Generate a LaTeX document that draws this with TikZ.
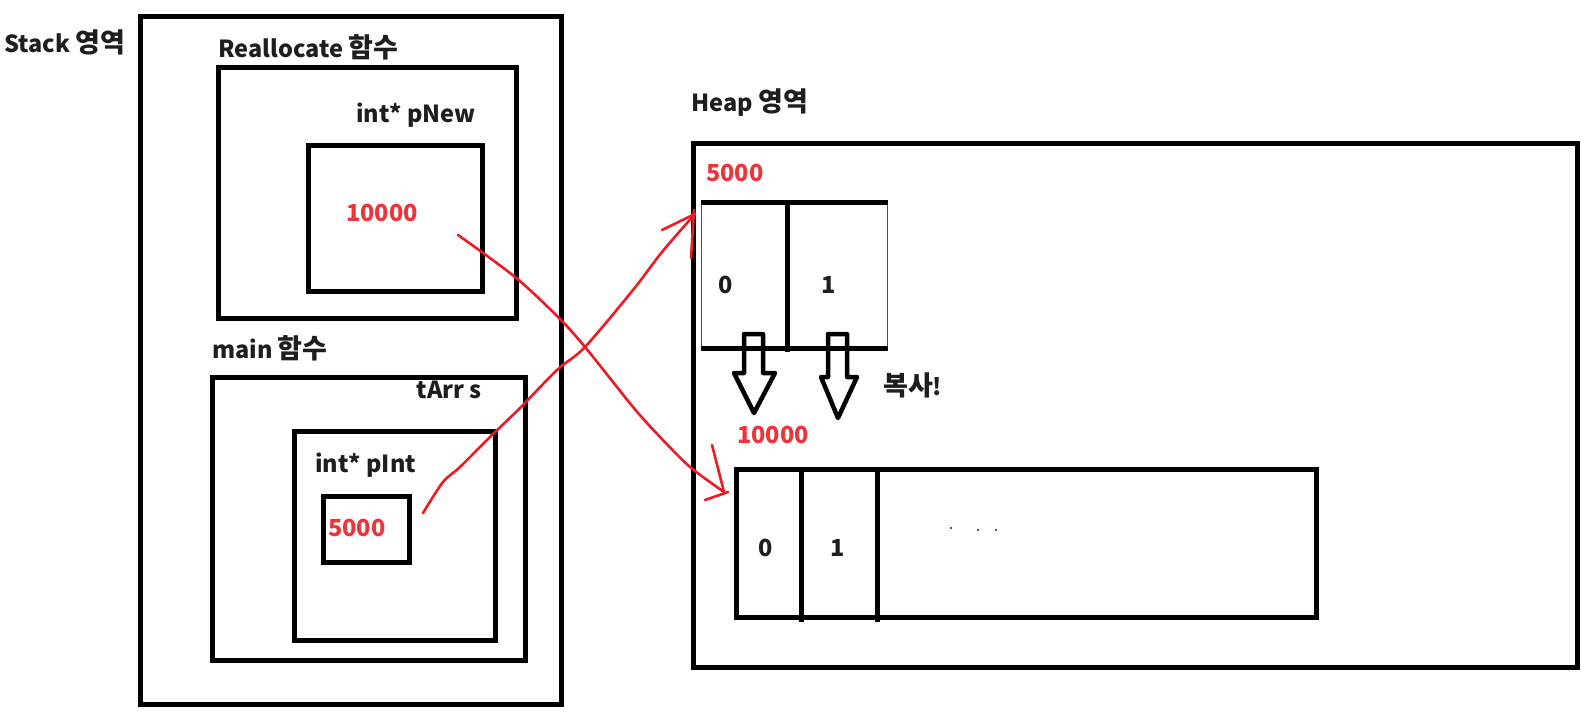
\documentclass[tikz,border=0pt]{standalone}
\usepackage{fontspec}
\setmainfont{Noto Sans CJK KR}
\definecolor{ink}{RGB}{30,30,30}
\definecolor{redc}{RGB}{237,28,36}
\definecolor{redt}{RGB}{236,52,58}
\newcommand{\hg}[1]{{\fontsize{27}{28}\selectfont #1}}
\begin{document}
\begin{tikzpicture}[x=1pt,y=-1pt,
  box/.style={draw=black, line width=5pt, minimum width=#1, inner sep=0pt, anchor=north west},
  lbl/.style={font=\bfseries\fontsize{23.5}{28}\selectfont, text=ink, inner sep=0pt, anchor=west},
  num/.style={lbl, text=redt},
  redline/.style={draw=redc, line width=2.6pt, line cap=round, line join=round},
  blockarrow/.style={draw=black, line width=4.5pt, line join=round},
  thick5/.style={draw=black, line width=5pt}]
\useasboundingbox (0,0) rectangle (1588,724);
% Stack side
\node[box=421pt, minimum height=688pt] (stack) at (138,14) {};
\node[lbl] (stacklbl) at (4,42) {Stack \hg{영역}};
\node[lbl] (realloclbl) at (218,47) {Reallocate \hg{함수}};
\node[box=298pt, minimum height=251pt] (realloc) at (216,65) {};
\node[lbl, anchor=east] (pnewlbl) at (476,115) {int* pNew};
\node[box=174pt, minimum height=146pt] (pnew) at (306,143) {};
\node[num] (v10000a) at (346,213) {10000};
\node[lbl] (mainlbl) at (212,348) {main \hg{함수}};
\node[box=313pt, minimum height=283pt] (mainbox) at (210,375) {};
\node[lbl, anchor=east] (tarrlbl) at (482,390) {tArr s};
\node[box=201pt, minimum height=209pt] (sbox) at (292,429) {};
\node[lbl] (pintlbl) at (315,465) {int* pInt};
\node[box=86pt, minimum height=66pt] (pint) at (321,494) {};
\node[num] (v5000a) at (328,528) {5000};
% Heap side
\node[lbl] (heaplbl) at (691,103) {Heap \hg{영역}};
\node[box=884pt, minimum height=524pt] (heap) at (691,141) {};
\node[num] (v5000b) at (706,173) {5000};
\node[draw=black!70, line width=1.2pt, minimum width=186pt, minimum height=145pt, inner sep=0pt, anchor=north west] (arr1) at (701,202) {};
\draw[thick5] (arr1.north west) -- (arr1.north east);
\draw[thick5] (arr1.south west) -- (arr1.south east);
\coordinate (d1t) at (787,202);
\coordinate (d1b) at (787,352);
\draw[thick5] (d1t) -- (d1b);
\node[lbl, anchor=center] (a1c0) at (726,285) {0};
\node[lbl, anchor=center] (a1c1) at (829,285) {1};
% copy arrows
\draw[blockarrow] (744,334) -- (763,334) -- (763,373) -- (775,373) -- (754,413) -- (734,373) -- (744,373) -- cycle;
\draw[blockarrow] (828,334) -- (847,334) -- (847,377) -- (857,377) -- (838,418) -- (821,377) -- (828,377) -- cycle;
\node[lbl] (copylbl) at (883,385) {\hg{복사}!};
\node[num] (v10000b) at (737,435) {10000};
\node[box=580pt, minimum height=148pt] (arr2) at (734,467) {};
\coordinate (d2t) at (801,467);
\coordinate (d2b) at (801,622);
\coordinate (d3t) at (877,467);
\coordinate (d3b) at (877,622);
\draw[thick5] (d2t) -- (d2b);
\draw[thick5] (d3t) -- (d3b);
\node[lbl, anchor=center] (a2c0) at (766,548) {0};
\node[lbl, anchor=center] (a2c1) at (838,548) {1};
\fill[ink] (951,528) circle (1.1pt) (978,530) circle (1.1pt) (996,530) circle (1.1pt);
% red pointer arrows
\coordinate (r1s) at (423,513);
\coordinate (r1e) at (695,214);
\draw[redline] plot[smooth, tension=0.5] coordinates {(r1s) (443,482) (460,467) (490,437) (520,408) (557,370) (585,347) (633,290) (662,252) (r1e)};
\draw[redline] (662,230) -- (r1e);
\draw[redline] (694,210) -- (691,258);
\coordinate (r2s) at (458,235);
\coordinate (r2e) at (724,492);
\draw[redline] plot[smooth, tension=0.5] coordinates {(r2s) (515,277) (558,317) (585,347) (633,407) (660,437) (690,467) (r2e)};
\draw[redline] (712,445) -- (r2e);
\draw[redline] (705,500) -- (728,492);
\end{tikzpicture}
\end{document}
